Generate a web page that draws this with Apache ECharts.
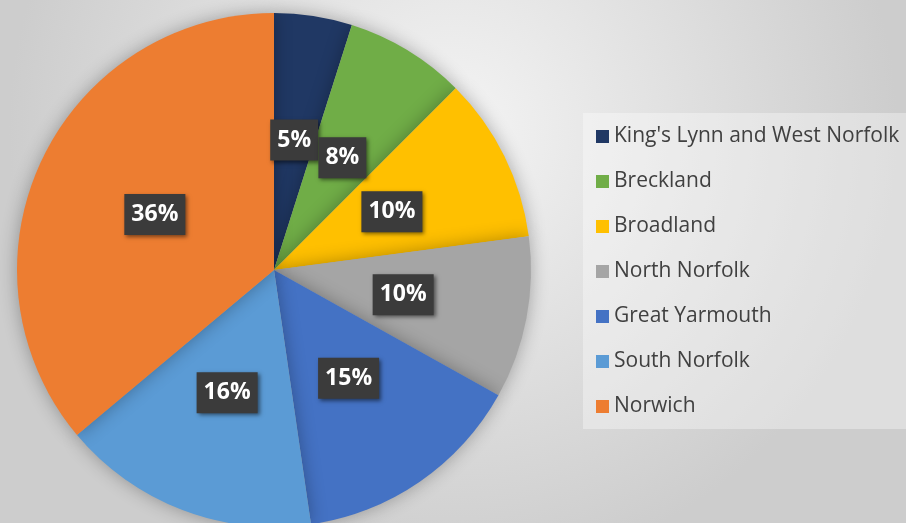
<!DOCTYPE html>
<html>
<head>
<meta charset="utf-8">
<script src="https://cdn.jsdelivr.net/npm/echarts@6/dist/echarts.min.js"></script>
<style>
html,body{margin:0;padding:0;}
#c{width:906px;height:523px;}
</style>
</head>
<body>
<div id="c"></div>
<script>
const categories = ["King's Lynn and West Norfolk", "Breckland", "Broadland", "North Norfolk", "Great Yarmouth", "South Norfolk", "Norwich"];
const values = [4.9, 7.6, 10.4, 10.2, 14.6, 16.2, 36.1];
const colors = ["#203864", "#70AD47", "#FFC000", "#A5A5A5", "#4472C4", "#5B9BD5", "#ED7D31"];

const chart = echarts.init(document.getElementById('c'), null, {renderer: 'canvas'});
chart.setOption({
  animation: false,
  backgroundColor: {
    type: 'radial', x: 0.5, y: 0.25, r: 0.85,
    colorStops: [{offset: 0, color: '#f4f4f4'}, {offset: 1, color: '#cdcdcd'}]
  },
  legend: {
    orient: 'vertical',
    left: 583,
    top: 113,
    padding: [13, 40, 12, 13],
    backgroundColor: 'rgba(255,255,255,0.35)',
    icon: 'rect',
    itemWidth: 13,
    itemHeight: 13,
    itemGap: 24,
    textStyle: {fontFamily: 'Open Sans', fontSize: 21, color: '#404040', lineHeight: 21},
    data: categories
  },
  series: [{
    type: 'pie',
    center: [274, 270],
    radius: 257,
    startAngle: 90,
    clockwise: true,
    percentPrecision: 0,
    data: categories.map((n, i) => ({name: n, value: values[i], itemStyle: {color: colors[i]}})),
    itemStyle: {shadowBlur: 18, shadowColor: 'rgba(0,0,0,0.3)'},
    emphasis: {disabled: true},
    label: {
      show: true,
      position: 'inside',
      formatter: '{d}%',
      fontFamily: 'Open Sans',
      fontWeight: 'bold',
      fontSize: 23,
      lineHeight: 26,
      color: '#ffffff',
      backgroundColor: '#3b3b3b',
      padding: [8, 7, 7, 7],
      shadowBlur: 4,
      shadowOffsetX: 2,
      shadowOffsetY: 2,
      shadowColor: 'rgba(0,0,0,0.5)'
    },
    labelLine: {show: false}
  }]
});
</script>
</body>
</html>
